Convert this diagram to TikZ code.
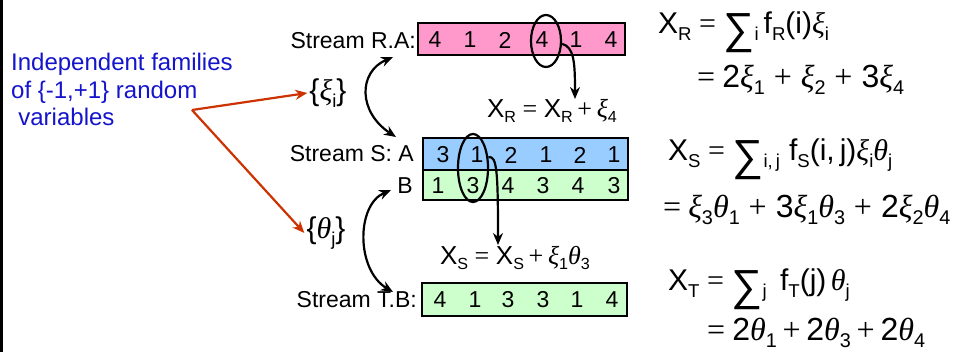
\documentclass[tikz,border=0pt]{standalone}
\usepackage{fontspec}
\setmainfont{Liberation Sans}
\setsansfont{Liberation Sans}
\newfontfamily\grk{Liberation Serif}
\usetikzlibrary{arrows.meta,shapes.geometric}
\definecolor{pinkbox}{RGB}{255,153,204}
\definecolor{bluebox}{RGB}{153,204,255}
\definecolor{greenbox}{RGB}{204,255,204}
\definecolor{redarrow}{RGB}{204,51,0}
\definecolor{bluetext}{RGB}{20,20,204}
\newcommand{\xii}{{\grk\itshape ξ}}
\newcommand{\tht}{{\grk\itshape θ}}
\newcommand{\sbs}[1]{\raisebox{-0.22em}{\scalebox{0.62}{#1}}}
\newcommand{\eq}{\hspace{0.25em}{\grk =}\hspace{0.25em}}
\newcommand{\pl}{\hspace{0.18em}{\grk +}\hspace{0.18em}}
\newcommand{\plw}{\hspace{0.28em}{\grk +}\hspace{0.28em}}
\newcommand{\Sum}{\raisebox{-0.32em}{\scalebox{1.45}{∑}}}
\begin{document}
\begin{tikzpicture}[x=1pt,y=-1pt,
  lbl/.style={font=\fontsize{23}{27}\selectfont, inner sep=0pt, anchor=east},
  num/.style={font=\fontsize{23}{27}\selectfont, inner sep=0pt},
  cellbox/.style={draw, line width=2.5pt, inner sep=0pt},
  oval/.style={draw, ellipse, line width=2.2pt, inner sep=0pt},
  eqn/.style={font=\fontsize{30}{33}\selectfont, inner sep=0pt, anchor=west},
  eqnb/.style={font=\fontsize{32}{35}\selectfont, inner sep=0pt, anchor=west},
  seqn/.style={font=\fontsize{26}{28}\selectfont, inner sep=0pt},
  fam/.style={font=\fontsize{30}{32}\selectfont, inner sep=2pt},
  arr/.style={-{Stealth[length=12pt,width=10pt]}, line width=2.2pt},
  darr/.style={{Stealth[length=12pt,width=10pt]}-{Stealth[length=12pt,width=10pt]}, line width=2.2pt},
  redarr/.style={draw=redarrow, line width=2.2pt, -{Stealth[length=12pt,width=10pt]}}
]
\useasboundingbox (0,0) rectangle (958,352);
\fill[white] (0,0) rectangle (958,352);
\draw[line width=3pt] (1.5,0) -- (1.5,352);

% left text
\node[anchor=north west, align=left, inner sep=0pt, text=bluetext,
      font=\fontsize{24}{27.5}\selectfont] (famtext) at (11,53)
  {Independent families\\of \{-1,+1\} random\\\hspace*{0.3em}variables};
\coordinate (rs) at (192,110);

% families
\node[fam] (xin) at (328,93) {\{\xii\sbs{i}\}};
\node[fam] (thn) at (326,233) {\{\tht\sbs{j}\}};
\draw[redarr] (rs) -- (xin.west);
\draw[redarr] (rs) -- (thn.west);

% stream labels
\node[lbl] (ralab) at (416,41) {Stream R.A:};
\node[lbl] (salab) at (414,154) {Stream S: A};
\node[lbl] (sblab) at (413,186) {B};
\node[lbl] (tblab) at (417,300) {Stream T.B:};

% boxes
\node[cellbox, fill=pinkbox, minimum width=207pt, minimum height=32pt] (rabox) at (521.5,39) {};
\node[cellbox, fill=bluebox, minimum width=205pt, minimum height=32pt] (sabox) at (525.5,154) {};
\node[cellbox, fill=greenbox, minimum width=205pt, minimum height=30pt] (sbbox) at (525.5,185) {};
\node[cellbox, fill=greenbox, minimum width=205pt, minimum height=33pt] (tbbox) at (524.5,299.5) {};

% numbers
\foreach \v/\x [count=\i] in {4/435,1/470,2/505,4/542,1/576,4/611}
  \node[num] (ra\i) at (\x,40) {\v};
\foreach \v/\x [count=\i] in {3/443,1/477,2/511,1/546,2/580,1/614}
  \node[num] (sa\i) at (\x,155) {\v};
\foreach \v/\x [count=\i] in {1/438,3/473,4/508,3/543,4/578,3/614}
  \node[num] (sb\i) at (\x,186) {\v};
\foreach \v/\x [count=\i] in {4/440,1/475,3/508,3/543,1/577,4/612}
  \node[num] (tb\i) at (\x,300) {\v};

% ellipses
\node[oval, minimum width=30pt, minimum height=52pt] (e1) at (546,41) {};
\node[oval, minimum width=30pt, minimum height=68pt] (e2) at (473,168) {};

% small update equations
\node[seqn] (xru) at (552,111) {X\sbs{R}\eq X\sbs{R}\pl\xii\sbs{4}};
\node[seqn] (xsu) at (515,258) {X\sbs{S}\eq X\sbs{S}\pl\xii\sbs{1}\tht\sbs{3}};
\coordinate (tR) at (575,99);
\coordinate (tS) at (498,245);
\draw[arr] (e1.-10) .. controls (574,47) and (575,62) .. (tR);
\draw[arr] (e2.35) .. controls (497,155) and (498,172) .. (tS);

% double arrows
\coordinate (xiT) at (393,57);
\coordinate (xiB) at (396,137);
\coordinate (thT) at (391,190);
\coordinate (thB) at (393,292);
\draw[darr] (xiB) .. controls (358,112) and (358,72) .. (xiT);
\draw[darr] (thT) .. controls (356,205) and (356,270) .. (thB);

% right equations
\node[eqn] (xr1) at (658,32) {X\sbs{R}\eq\Sum\sbs{i}\,f\sbs{R}(i)\xii\sbs{i}};
\node[eqnb] (xr2) at (697,80) {{\grk =}\hspace{0.22em}2\xii\sbs{1}\plw\xii\sbs{2}\plw3\xii\sbs{4}};
\node[eqn] (xs1) at (668,159) {X\sbs{S}\eq\Sum\sbs{i,\,j}\hspace{0.3em}f\sbs{S}(i,\,j)\xii\sbs{i}\tht\sbs{j}};
\node[eqnb] (xs2) at (663,210) {{\grk =}\hspace{0.22em}\xii\sbs{3}\tht\sbs{1}\plw3\xii\sbs{1}\tht\sbs{3}\plw2\xii\sbs{2}\tht\sbs{4}};
\node[eqn] (xt1) at (668,289) {X\sbs{T}\eq\Sum\sbs{j}\hspace{0.45em}f\sbs{T}(j)\hspace{0.15em}\tht\sbs{j}};
\node[eqnb] (xt2) at (707,333) {{\grk =}\hspace{0.22em}2\tht\sbs{1}\pl2\tht\sbs{3}\pl2\tht\sbs{4}};
\end{tikzpicture}
\end{document}
